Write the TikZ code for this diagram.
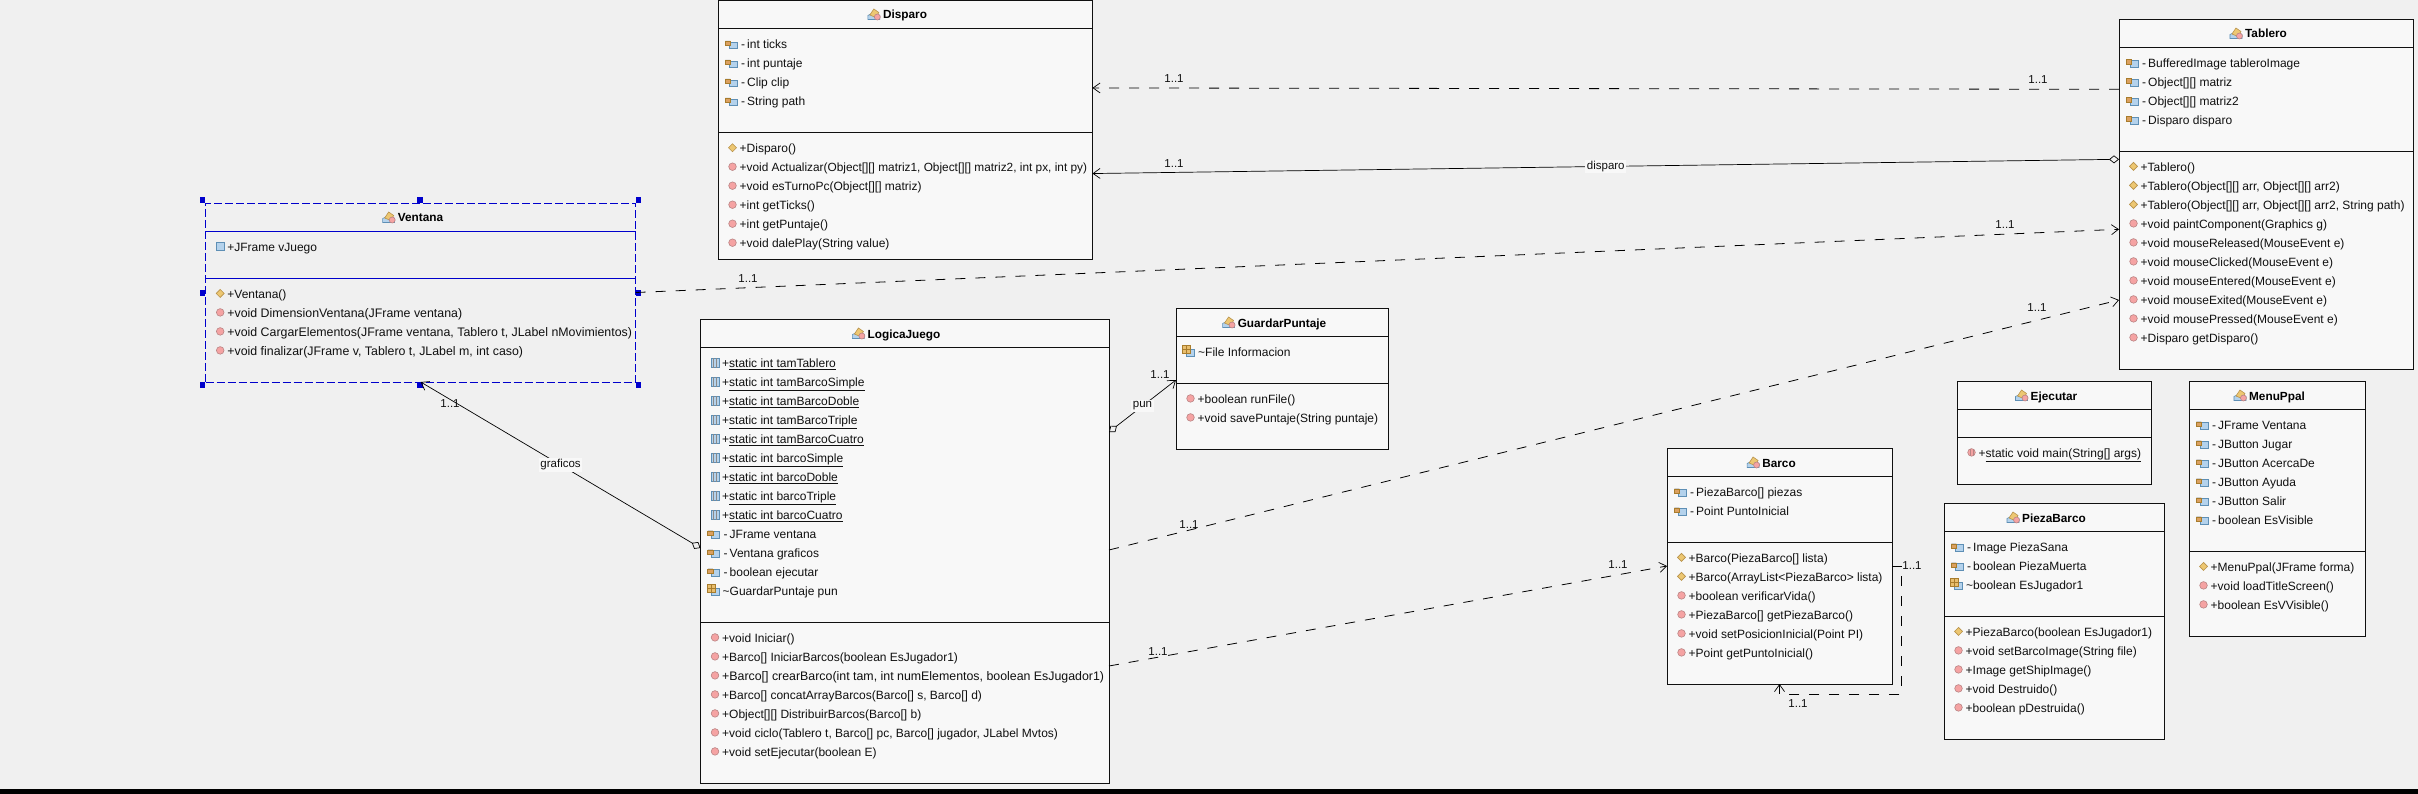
\documentclass[tikz,border=0pt]{standalone}
\usepackage{fontspec}
\setmainfont{Liberation Sans}
\usetikzlibrary{arrows.meta}
\definecolor{UMLBack}{HTML}{F0F0F0}
\definecolor{UMLFill}{HTML}{F8F8F8}
\definecolor{UMLLine}{HTML}{101010}
\definecolor{LabelBack}{HTML}{F8F8F8}
\definecolor{SelBlue}{HTML}{0000CC}
\definecolor{FieldBlue}{HTML}{B4D2EC}
\definecolor{FieldEdge}{HTML}{5E8FB5}
\definecolor{LockTan}{HTML}{DBA060}
\definecolor{LockEdge}{HTML}{8A8A8A}
\definecolor{GridTan}{HTML}{E8BE6E}
\definecolor{GridEdge}{HTML}{A87C2C}
\definecolor{CtorFill}{HTML}{EDC772}
\definecolor{CtorEdge}{HTML}{B8924A}
\definecolor{MethodFill}{HTML}{F5A3A3}
\definecolor{MethodEdge}{HTML}{B98484}
\tikzset{
  classbox/.style={draw=UMLLine,fill=UMLFill,line width=0.9pt,anchor=north west,inner sep=0pt,outer sep=0pt},
  classline/.style={draw=UMLLine,line width=0.9pt},
  classtitle/.style={font=\fontsize{11.8}{13}\selectfont\bfseries,inner sep=0pt,text=black,text height=10.5pt,text depth=1.5pt},
  member/.style={font=\fontsize{12}{13}\selectfont,anchor=base west,inner sep=0pt,text=UMLLine},
  wide/.style={font=\fontsize{12.37}{13}\selectfont},
  tight/.style={font=\fontsize{11.85}{13}\selectfont},
  mult/.style={font=\fontsize{11.5}{13}\selectfont,inner sep=0pt,text=UMLLine},
  edgelabel/.style={font=\fontsize{11.5}{13}\selectfont,inner sep=1.5pt,fill=LabelBack,text=UMLLine},
  dep/.style={draw=black,line width=0.8pt,dash pattern=on 10pt off 10pt,-{Straight Barb[length=7pt,width=10pt,line width=0.7pt]}},
  assoc/.style={draw=black,line width=0.7pt,{Diamond[open,fill=UMLBack,length=10pt,width=8pt]}-{Straight Barb[length=7pt,width=10pt,line width=0.7pt]}},
  handle/.style={fill=SelBlue},
  iconclass/.pic={
    \fill[FieldBlue,draw=FieldEdge,line width=0.6pt] (-7,0) -- (-7,-4) -- (-3,-6) -- (5,-4) -- (5,0) -- cycle;
    \fill[CtorFill,draw=CtorEdge,line width=0.6pt] (-5,-4.5) -- (-1,-10.5) -- (4,-7) -- (1,-2) -- cycle;
    \fill[MethodFill,draw=MethodEdge,line width=0.6pt] (2.5,-2.5) circle (3);
  },
  iconctor/.pic={
    \fill[CtorFill,draw=CtorEdge,line width=0.6pt] (-4,-4.8) -- (0,-8.8) -- (4,-4.8) -- (0,-0.8) -- cycle;
  },
  iconmethod/.pic={
    \fill[MethodFill,draw=MethodEdge,line width=0.6pt] (0,-4.8) circle (3.8);
  },
  iconstaticm/.pic={
    \fill[MethodFill,draw=MethodEdge,line width=0.6pt] (0,-4.8) circle (3.8);
    \draw[MethodEdge,line width=0.6pt] (-1.4,-8) -- (-1.4,-1.6) (1.4,-8) -- (1.4,-1.6);
  },
  iconpublic/.pic={
    \fill[FieldBlue,draw=FieldEdge,line width=0.7pt] (-4,-8.8) rectangle (4,-0.8);
  },
  iconstatic/.pic={
    \fill[FieldBlue,draw=FieldEdge,line width=0.7pt] (-4,-9) rectangle (4,0.3);
    \draw[LockEdge,line width=0.7pt] (-1.3,-9) -- (-1.3,0.3) (1.3,-9) -- (1.3,0.3);
  },
  iconprivate/.pic={
    \fill[FieldBlue,draw=FieldEdge,line width=0.7pt] (-3.5,-6.5) rectangle (4.5,0.3);
    \fill[LockEdge] (-7.2,-7.5) arc (180:0:2.5 and 3) -- cycle;
    \fill[LockTan,draw=GridEdge,line width=0.4pt] (-7.5,-7.5) rectangle (-2,-3);
  },
  iconpackage/.pic={
    \fill[FieldBlue,draw=FieldEdge,line width=0.7pt] (-4,-7) rectangle (4,0.3);
    \fill[GridTan,draw=GridEdge,line width=0.7pt] (-8,-11) rectangle (0,-3);
    \draw[GridEdge,line width=0.6pt] (-4,-11) -- (-4,-3) (-8,-7) -- (0,-7);
  },
}
\begin{document}
\begin{tikzpicture}[x=1pt,y=-1pt]
\useasboundingbox (0,0) rectangle (2418,794);
\fill[UMLBack] (0,0) rectangle (2418,794);
\fill[black] (0,789) rectangle (2418,794);
% Disparo
\node[classbox,minimum width=374pt,minimum height=258.5pt] (Disparo) at (718.5,0.5) {};
\draw[classline] ([yshift=-27.5pt]Disparo.north west) -- ([yshift=-27.5pt]Disparo.north east);
\draw[classline] ([yshift=-131.5pt]Disparo.north west) -- ([yshift=-131.5pt]Disparo.north east);
\node[classtitle] (DisparoTitle) at (905,14.5) {Disparo};
\pic at ([xshift=-8pt,yshift=-5pt]DisparoTitle.west) {iconclass};
\pic at (732.5,48.5) {iconprivate}; \node[member] (disparoTicks) at (741,48.5) {-\,int ticks};
\pic at (732.5,67.5) {iconprivate}; \node[member] (disparoPuntaje) at (741,67.5) {-\,int puntaje};
\pic at (732.5,86.5) {iconprivate}; \node[member] (disparoClip) at (741,86.5) {-\,Clip clip};
\pic at (732.5,105.5) {iconprivate}; \node[member] (disparoPath) at (741,105.5) {-\,String path};
\pic at (732.5,152.5) {iconctor}; \node[member] (disparoNew) at (739.5,152.5) {+Disparo()};
\pic at (732.5,171.5) {iconmethod}; \node[member,tight] (disparoActualizar) at (739.5,171.5) {+void Actualizar(Object[][] matriz1, Object[][] matriz2, int px, int py)};
\pic at (732.5,190.5) {iconmethod}; \node[member] (disparoTurno) at (739.5,190.5) {+void esTurnoPc(Object[][] matriz)};
\pic at (732.5,209.5) {iconmethod}; \node[member] (disparoGetTicks) at (739.5,209.5) {+int getTicks()};
\pic at (732.5,228.5) {iconmethod}; \node[member] (disparoGetPuntaje) at (739.5,228.5) {+int getPuntaje()};
\pic at (732.5,247.5) {iconmethod}; \node[member] (disparoPlay) at (739.5,247.5) {+void dalePlay(String value)};
% Ventana
\node[classbox,draw=SelBlue,fill=UMLBack,dash pattern=on 8pt off 3pt,minimum width=430pt,minimum height=179pt] (Ventana) at (205.7,203) {};
\draw[classline,draw=SelBlue] ([yshift=-28pt]Ventana.north west) -- ([yshift=-28pt]Ventana.north east);
\draw[classline,draw=SelBlue] ([yshift=-75pt]Ventana.north west) -- ([yshift=-75pt]Ventana.north east);
\node[classtitle] (VentanaTitle) at (420.5,217.5) {Ventana};
\pic at ([xshift=-8pt,yshift=-5pt]VentanaTitle.west) {iconclass};
\pic at (220.2,251.2) {iconpublic}; \node[member] (ventanaJuego) at (227.2,251.2) {+JFrame vJuego};
\pic at (220.2,298.2) {iconctor}; \node[member] (ventanaNew) at (227.2,298.2) {+Ventana()};
\pic at (220.2,317.2) {iconmethod}; \node[member,wide] (ventanaDim) at (227.2,317.2) {+void DimensionVentana(JFrame ventana)};
\pic at (220.2,336.2) {iconmethod}; \node[member,wide] (ventanaCargar) at (227.2,336.2) {+void CargarElementos(JFrame ventana, Tablero t, JLabel nMovimientos)};
\pic at (220.2,355.2) {iconmethod}; \node[member,wide] (ventanaFin) at (227.2,355.2) {+void finalizar(JFrame v, Tablero t, JLabel m, int caso)};
\fill[handle] (199.5,197.5) rectangle (205,203);
\fill[handle] (417.3,197.5) rectangle (422.8,203);
\fill[handle] (635.5,197.5) rectangle (641,203);
\fill[handle] (199.8,290.5) rectangle (205.3,296);
\fill[handle] (635.5,290.5) rectangle (641,296);
\fill[handle] (199.5,382.3) rectangle (205,387.8);
\fill[handle] (417.3,382.3) rectangle (422.8,387.8);
\fill[handle] (635.5,382.3) rectangle (641,387.8);
% LogicaJuego
\node[classbox,minimum width=408.5pt,minimum height=463.5pt] (LogicaJuego) at (700.5,319.5) {};
\draw[classline] ([yshift=-27.5pt]LogicaJuego.north west) -- ([yshift=-27.5pt]LogicaJuego.north east);
\draw[classline] ([yshift=-302.5pt]LogicaJuego.north west) -- ([yshift=-302.5pt]LogicaJuego.north east);
\node[classtitle] (LogicaTitle) at (904,333.5) {LogicaJuego};
\pic at ([xshift=-8pt,yshift=-5pt]LogicaTitle.west) {iconclass};
\pic at (715,367.2) {iconstatic}; \node[member] (logicaTamTablero) at (722,367.2) {+\underline{static int tamTablero}};
\pic at (715,386.2) {iconstatic}; \node[member] (logicaTamSimple) at (722,386.2) {+\underline{static int tamBarcoSimple}};
\pic at (715,405.2) {iconstatic}; \node[member] (logicaTamDoble) at (722,405.2) {+\underline{static int tamBarcoDoble}};
\pic at (715,424.2) {iconstatic}; \node[member] (logicaTamTriple) at (722,424.2) {+\underline{static int tamBarcoTriple}};
\pic at (715,443.2) {iconstatic}; \node[member] (logicaTamCuatro) at (722,443.2) {+\underline{static int tamBarcoCuatro}};
\pic at (715,462.2) {iconstatic}; \node[member] (logicaSimple) at (722,462.2) {+\underline{static int barcoSimple}};
\pic at (715,481.2) {iconstatic}; \node[member] (logicaDoble) at (722,481.2) {+\underline{static int barcoDoble}};
\pic at (715,500.2) {iconstatic}; \node[member] (logicaTriple) at (722,500.2) {+\underline{static int barcoTriple}};
\pic at (715,519.2) {iconstatic}; \node[member] (logicaCuatro) at (722,519.2) {+\underline{static int barcoCuatro}};
\pic at (715,538.2) {iconprivate}; \node[member] (logicaVentana) at (723.5,538.2) {-\,JFrame ventana};
\pic at (715,557.2) {iconprivate}; \node[member] (logicaGraficos) at (723.5,557.2) {-\,Ventana graficos};
\pic at (715,576.2) {iconprivate}; \node[member] (logicaEjecutar) at (723.5,576.2) {-\,boolean ejecutar};
\pic at (715,595.2) {iconpackage}; \node[member] (logicaPun) at (722.5,595.2) {\textasciitilde GuardarPuntaje pun};
\pic at (715,642.2) {iconmethod}; \node[member] (logicaIniciar) at (722,642.2) {+void Iniciar()};
\pic at (715,661.2) {iconmethod}; \node[member] (logicaIniciarB) at (722,661.2) {+Barco[] IniciarBarcos(boolean EsJugador1)};
\pic at (715,680.2) {iconmethod}; \node[member,wide] (logicaCrear) at (722,680.2) {+Barco[] crearBarco(int tam, int numElementos, boolean EsJugador1)};
\pic at (715,699.2) {iconmethod}; \node[member] (logicaConcat) at (722,699.2) {+Barco[] concatArrayBarcos(Barco[] s, Barco[] d)};
\pic at (715,718.2) {iconmethod}; \node[member] (logicaDistribuir) at (722,718.2) {+Object[][] DistribuirBarcos(Barco[] b)};
\pic at (715,737.2) {iconmethod}; \node[member] (logicaCiclo) at (722,737.2) {+void ciclo(Tablero t, Barco[] pc, Barco[] jugador, JLabel Mvtos)};
\pic at (715,756.2) {iconmethod}; \node[member] (logicaSet) at (722,756.2) {+void setEjecutar(boolean E)};
% GuardarPuntaje
\node[classbox,minimum width=212pt,minimum height=141pt] (GuardarPuntaje) at (1176,308) {};
\draw[classline] ([yshift=-28pt]GuardarPuntaje.north west) -- ([yshift=-28pt]GuardarPuntaje.north east);
\draw[classline] ([yshift=-75pt]GuardarPuntaje.north west) -- ([yshift=-75pt]GuardarPuntaje.north east);
\node[classtitle] (GuardarTitle) at (1282,322.5) {GuardarPuntaje};
\pic at ([xshift=-8pt,yshift=-5pt]GuardarTitle.west) {iconclass};
\pic at (1190.5,356.2) {iconpackage}; \node[member] (guardarInfo) at (1198,356.2) {\textasciitilde File Informacion};
\pic at (1190.5,403.2) {iconmethod}; \node[member] (guardarRun) at (1197.5,403.2) {+boolean runFile()};
\pic at (1190.5,422.2) {iconmethod}; \node[member] (guardarSave) at (1197.5,422.2) {+void savePuntaje(String puntaje)};
% Tablero
\node[classbox,minimum width=294pt,minimum height=350pt] (Tablero) at (2119,19) {};
\draw[classline] ([yshift=-28pt]Tablero.north west) -- ([yshift=-28pt]Tablero.north east);
\draw[classline] ([yshift=-132pt]Tablero.north west) -- ([yshift=-132pt]Tablero.north east);
\node[classtitle] (TableroTitle) at (2266,33.5) {Tablero};
\pic at ([xshift=-8pt,yshift=-5pt]TableroTitle.west) {iconclass};
\pic at (2133.5,67.2) {iconprivate}; \node[member] (tableroImage) at (2142,67.2) {-\,BufferedImage tableroImage};
\pic at (2133.5,86.2) {iconprivate}; \node[member] (tableroMatriz) at (2142,86.2) {-\,Object[][] matriz};
\pic at (2133.5,105.2) {iconprivate}; \node[member] (tableroMatrizB) at (2142,105.2) {-\,Object[][] matriz2};
\pic at (2133.5,124.2) {iconprivate}; \node[member] (tableroDisparo) at (2142,124.2) {-\,Disparo disparo};
\pic at (2133.5,171.2) {iconctor}; \node[member] (tableroNew) at (2140.5,171.2) {+Tablero()};
\pic at (2133.5,190.2) {iconctor}; \node[member] (tableroNewB) at (2140.5,190.2) {+Tablero(Object[][] arr, Object[][] arr2)};
\pic at (2133.5,209.2) {iconctor}; \node[member] (tableroNewC) at (2140.5,209.2) {+Tablero(Object[][] arr, Object[][] arr2, String path)};
\pic at (2133.5,228.2) {iconmethod}; \node[member] (tableroPaint) at (2140.5,228.2) {+void paintComponent(Graphics g)};
\pic at (2133.5,247.2) {iconmethod}; \node[member] (tableroReleased) at (2140.5,247.2) {+void mouseReleased(MouseEvent e)};
\pic at (2133.5,266.2) {iconmethod}; \node[member] (tableroClicked) at (2140.5,266.2) {+void mouseClicked(MouseEvent e)};
\pic at (2133.5,285.2) {iconmethod}; \node[member] (tableroEntered) at (2140.5,285.2) {+void mouseEntered(MouseEvent e)};
\pic at (2133.5,304.2) {iconmethod}; \node[member] (tableroExited) at (2140.5,304.2) {+void mouseExited(MouseEvent e)};
\pic at (2133.5,323.2) {iconmethod}; \node[member] (tableroPressed) at (2140.5,323.2) {+void mousePressed(MouseEvent e)};
\pic at (2133.5,342.2) {iconmethod}; \node[member] (tableroGet) at (2140.5,342.2) {+Disparo getDisparo()};
% Ejecutar
\node[classbox,minimum width=194pt,minimum height=103pt] (Ejecutar) at (1957,381) {};
\draw[classline] ([yshift=-28pt]Ejecutar.north west) -- ([yshift=-28pt]Ejecutar.north east);
\draw[classline] ([yshift=-56pt]Ejecutar.north west) -- ([yshift=-56pt]Ejecutar.north east);
\node[classtitle] (EjecutarTitle) at (2054,395.5) {Ejecutar};
\pic at ([xshift=-8pt,yshift=-5pt]EjecutarTitle.west) {iconclass};
\pic at (1971.5,457.2) {iconstaticm}; \node[member] (ejecutarMain) at (1978.5,457.2) {+\underline{static void main(String[] args)}};
% MenuPpal
\node[classbox,minimum width=176pt,minimum height=255pt] (MenuPpal) at (2189,381) {};
\draw[classline] ([yshift=-28pt]MenuPpal.north west) -- ([yshift=-28pt]MenuPpal.north east);
\draw[classline] ([yshift=-170pt]MenuPpal.north west) -- ([yshift=-170pt]MenuPpal.north east);
\node[classtitle] (MenuTitle) at (2277,395.5) {MenuPpal};
\pic at ([xshift=-8pt,yshift=-5pt]MenuTitle.west) {iconclass};
\pic at (2203.5,429.2) {iconprivate}; \node[member] (menuVentana) at (2212,429.2) {-\,JFrame Ventana};
\pic at (2203.5,448.2) {iconprivate}; \node[member] (menuJugar) at (2212,448.2) {-\,JButton Jugar};
\pic at (2203.5,467.2) {iconprivate}; \node[member] (menuAcerca) at (2212,467.2) {-\,JButton AcercaDe};
\pic at (2203.5,486.2) {iconprivate}; \node[member] (menuAyuda) at (2212,486.2) {-\,JButton Ayuda};
\pic at (2203.5,505.2) {iconprivate}; \node[member] (menuSalir) at (2212,505.2) {-\,JButton Salir};
\pic at (2203.5,524.2) {iconprivate}; \node[member] (menuVisible) at (2212,524.2) {-\,boolean EsVisible};
\pic at (2203.5,571.2) {iconctor}; \node[member] (menuNew) at (2210.5,571.2) {+MenuPpal(JFrame forma)};
\pic at (2203.5,590.2) {iconmethod}; \node[member] (menuLoad) at (2210.5,590.2) {+void loadTitleScreen()};
\pic at (2203.5,609.2) {iconmethod}; \node[member] (menuEsV) at (2210.5,609.2) {+boolean EsVVisible()};
% PiezaBarco
\node[classbox,minimum width=220pt,minimum height=236pt] (PiezaBarco) at (1944,503) {};
\draw[classline] ([yshift=-28pt]PiezaBarco.north west) -- ([yshift=-28pt]PiezaBarco.north east);
\draw[classline] ([yshift=-113pt]PiezaBarco.north west) -- ([yshift=-113pt]PiezaBarco.north east);
\node[classtitle] (PiezaTitle) at (2054,517.5) {PiezaBarco};
\pic at ([xshift=-8pt,yshift=-5pt]PiezaTitle.west) {iconclass};
\pic at (1958.5,551.2) {iconprivate}; \node[member] (piezaSana) at (1967,551.2) {-\,Image PiezaSana};
\pic at (1958.5,570.2) {iconprivate}; \node[member] (piezaMuerta) at (1967,570.2) {-\,boolean PiezaMuerta};
\pic at (1958.5,589.2) {iconpackage}; \node[member] (piezaJugador) at (1966,589.2) {\textasciitilde boolean EsJugador1};
\pic at (1958.5,636.2) {iconctor}; \node[member] (piezaNew) at (1965.5,636.2) {+PiezaBarco(boolean EsJugador1)};
\pic at (1958.5,655.2) {iconmethod}; \node[member] (piezaSet) at (1965.5,655.2) {+void setBarcoImage(String file)};
\pic at (1958.5,674.2) {iconmethod}; \node[member] (piezaShip) at (1965.5,674.2) {+Image getShipImage()};
\pic at (1958.5,693.2) {iconmethod}; \node[member] (piezaDestruido) at (1965.5,693.2) {+void Destruido()};
\pic at (1958.5,712.2) {iconmethod}; \node[member] (piezaDestruida) at (1965.5,712.2) {+boolean pDestruida()};
% Barco
\node[classbox,minimum width=225pt,minimum height=236pt] (Barco) at (1667,448) {};
\draw[classline] ([yshift=-28pt]Barco.north west) -- ([yshift=-28pt]Barco.north east);
\draw[classline] ([yshift=-94pt]Barco.north west) -- ([yshift=-94pt]Barco.north east);
\node[classtitle] (BarcoTitle) at (1779,462.5) {Barco};
\pic at ([xshift=-8pt,yshift=-5pt]BarcoTitle.west) {iconclass};
\pic at (1681.5,496.2) {iconprivate}; \node[member] (barcoPiezas) at (1690,496.2) {-\,PiezaBarco[] piezas};
\pic at (1681.5,515.2) {iconprivate}; \node[member] (barcoPunto) at (1690,515.2) {-\,Point PuntoInicial};
\pic at (1681.5,562.2) {iconctor}; \node[member] (barcoNew) at (1688.5,562.2) {+Barco(PiezaBarco[] lista)};
\pic at (1681.5,581.2) {iconctor}; \node[member] (barcoNewB) at (1688.5,581.2) {+Barco(ArrayList<PiezaBarco> lista)};
\pic at (1681.5,600.2) {iconmethod}; \node[member] (barcoVida) at (1688.5,600.2) {+boolean verificarVida()};
\pic at (1681.5,619.2) {iconmethod}; \node[member] (barcoGet) at (1688.5,619.2) {+PiezaBarco[] getPiezaBarco()};
\pic at (1681.5,638.2) {iconmethod}; \node[member] (barcoSet) at (1688.5,638.2) {+void setPosicionInicial(Point PI)};
\pic at (1681.5,657.2) {iconmethod}; \node[member] (barcoPuntoGet) at (1688.5,657.2) {+Point getPuntoInicial()};
% relations
\draw[dep] ([yshift=104.7pt]Tablero.west) -- ([yshift=41.8pt]Disparo.east);
\draw[assoc] ([yshift=34.7pt]Tablero.west) -- ([yshift=-43.8pt]Disparo.east) node[edgelabel,midway] (lblDisparo) {disparo};
\draw[dep] (Ventana.east) -- ([yshift=-35.3pt]Tablero.west);
\draw[dep] ([yshift=1.25pt]LogicaJuego.east) -- ([yshift=-106pt]Tablero.west);
\draw[dep] ([yshift=-114.75pt]LogicaJuego.east) -- (Barco.west);
\draw[assoc] ([yshift=3.25pt]LogicaJuego.west) -- (Ventana.south) node[edgelabel,midway] (lblGraficos) {graficos};
\draw[assoc] ([yshift=119.25pt]LogicaJuego.east) -- ([yshift=-1.5pt]GuardarPuntaje.west) node[edgelabel,midway] (lblPun) {pun};
\draw[dep] (Barco.east) -- ++(9.7,0) |- ([yshift=-10pt]Barco.south) -- (Barco.south);
\node[mult] (multDisparoA) at (1174,79) {1..1};
\node[mult] (multDisparoB) at (2038,79.5) {1..1};
\node[mult] (multDisparoC) at (1174,163.7) {1..1};
\node[mult] (multVentanaA) at (748,279) {1..1};
\node[mult] (multVentanaB) at (2005,225) {1..1};
\node[mult] (multLogicaA) at (1189,525) {1..1};
\node[mult] (multLogicaB) at (2037,308) {1..1};
\node[mult] (multBarcoA) at (1158,652) {1..1};
\node[mult] (multBarcoB) at (1618,565) {1..1};
\node[mult] (multGraficos) at (450,404) {1..1};
\node[mult] (multPun) at (1160,375) {1..1};
\node[mult] (multSelfA) at (1912,566) {1..1};
\node[mult] (multSelfB) at (1798,704) {1..1};
\end{tikzpicture}
\end{document}
